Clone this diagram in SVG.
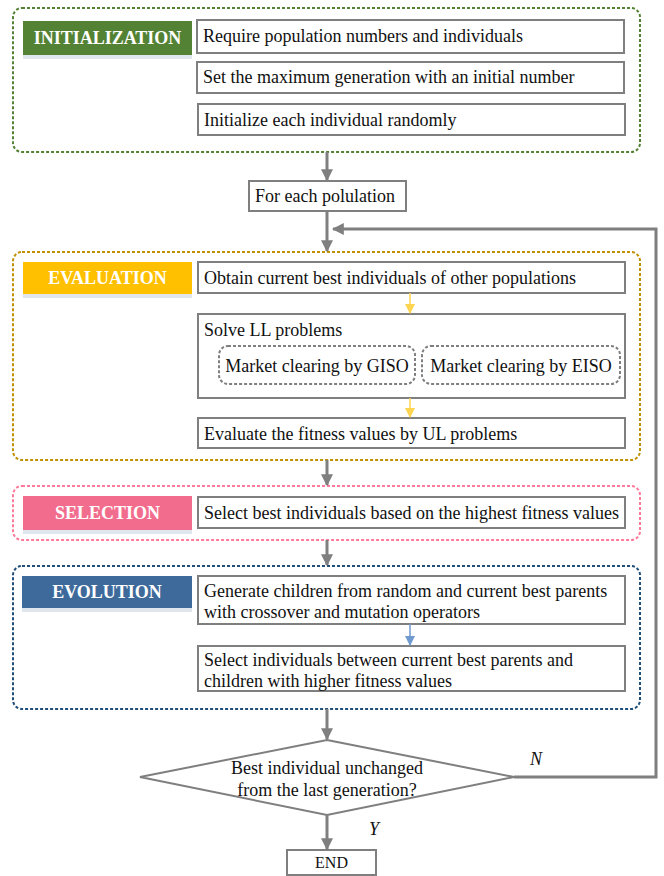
<svg xmlns="http://www.w3.org/2000/svg" width="664" height="876" viewBox="0 0 664 876" font-family="'Liberation Serif','Times New Roman',serif">
<defs>
<marker id="ag" viewBox="0 0 10 10" refX="9" refY="5" markerWidth="4" markerHeight="4" orient="auto" markerUnits="strokeWidth"><path d="M0,0 L10,5 L0,10 z" fill="#7f7f7f"/></marker>
<marker id="ay" viewBox="0 0 10 10" refX="9" refY="5" markerWidth="7" markerHeight="7" orient="auto" markerUnits="strokeWidth"><path d="M0,0 L10,5 L0,10 z" fill="#FFD44F"/></marker>
<marker id="ab" viewBox="0 0 10 10" refX="9" refY="5" markerWidth="7" markerHeight="7" orient="auto" markerUnits="strokeWidth"><path d="M0,0 L10,5 L0,10 z" fill="#6F9AD0"/></marker>
</defs>
<style>
text{font-family:"Liberation Serif","Times New Roman",serif;fill:#111;}
.t{font-size:18px;}
.lab{font-size:18px;font-weight:bold;fill:#fff;text-anchor:middle;}
.box{fill:#fff;stroke:#7f7f7f;stroke-width:2;}
.cont{fill:none;stroke-width:2;stroke-dasharray:3 2;}
.sub{fill:#fff;stroke:#7f7f7f;stroke-width:2;stroke-dasharray:3 2;}
.conn{fill:none;stroke:#7f7f7f;stroke-width:3;}
.shadow{fill:#dfe6ee;}
</style>
<rect width="664" height="876" fill="#fff"/>

<g id="initialization">
<rect class="cont" x="13" y="8" width="627" height="144" rx="9" stroke="#548235"/>
<rect class="shadow" x="23" y="55" width="169" height="4"/>
<rect x="23" y="21" width="169" height="34" fill="#548235"/>
<text class="lab" x="107.5" y="44">INITIALIZATION</text>
</g>
<g id="init1"><rect class="box" x="197" y="20" width="427" height="33"/><text class="t" x="203" y="42">Require population numbers and individuals</text></g>
<g id="init2"><rect class="box" x="197" y="62" width="427" height="31"/><text class="t" x="203" y="83">Set the maximum generation with an initial number</text></g>
<g id="init3"><rect class="box" x="198" y="104" width="427" height="31"/><text class="t" x="204" y="126">Initialize each individual randomly</text></g>

<g id="foreach"><rect class="box" x="249" y="181" width="157" height="30"/><text class="t" x="255" y="202">For each polulation</text></g>

<g id="evaluation">
<rect class="cont" x="13" y="252" width="627" height="208" rx="9" stroke="#BF9000"/>
<rect class="shadow" x="23" y="294" width="169" height="4"/>
<rect x="23" y="262" width="169" height="32" fill="#FFC000"/>
<text class="lab" x="107.5" y="284">EVALUATION</text>
</g>
<g id="obtain"><rect class="box" x="198" y="262" width="427" height="31"/><text class="t" x="204" y="284">Obtain current best individuals of other populations</text></g>
<g id="solve"><rect class="box" x="198" y="314" width="427" height="84"/><text class="t" x="204" y="336">Solve LL problems</text></g>
<g id="giso"><rect class="sub" x="219" y="346" width="196" height="38" rx="9"/><text class="t" x="317" y="372" text-anchor="middle">Market clearing by GISO</text></g>
<g id="eiso"><rect class="sub" x="422" y="346" width="198" height="38" rx="9"/><text class="t" x="521" y="372" text-anchor="middle">Market clearing by EISO</text></g>
<g id="evalfit"><rect class="box" x="198" y="418" width="427" height="30"/><text class="t" x="204" y="440">Evaluate the fitness values by UL problems</text></g>

<g id="selection">
<rect class="cont" x="13" y="486" width="627" height="54" rx="9" stroke="#FF7A9A"/>
<rect class="shadow" x="23" y="530" width="169" height="4"/>
<rect x="23" y="496" width="169" height="34" fill="#F26D8D"/>
<text class="lab" x="107.5" y="519">SELECTION</text>
</g>
<g id="selectbest"><rect class="box" x="198" y="497" width="427" height="31"/><text class="t" x="204" y="519">Select best individuals based on the highest fitness values</text></g>

<g id="evolution">
<rect class="cont" x="13" y="566" width="627" height="143" rx="9" stroke="#1F4E79"/>
<rect class="shadow" x="22" y="608" width="170" height="4"/>
<rect x="22" y="576" width="170" height="32" fill="#3D6A9B"/>
<text class="lab" x="107" y="598">EVOLUTION</text>
</g>
<g id="generate"><rect class="box" x="198" y="576" width="427" height="48"/><text class="t" x="204" y="597">Generate children from random and current best parents</text><text class="t" x="204" y="618">with crossover and mutation operators</text></g>
<g id="selectind"><rect class="box" x="198" y="646" width="427" height="45"/><text class="t" x="204" y="666">Select individuals between current best parents and</text><text class="t" x="204" y="687">children with higher fitness values</text></g>

<g id="decision"><polygon points="327,740 514,777 327,815 140,777" fill="#fff" stroke="#7f7f7f" stroke-width="2"/><text class="t" x="327" y="774" text-anchor="middle">Best individual unchanged</text><text class="t" x="327" y="796" text-anchor="middle">from the last generation?</text></g>

<g id="end"><rect class="box" x="287" y="850" width="89" height="25"/><text class="t" x="331.5" y="868" text-anchor="middle" style="font-size:16px">END</text></g>

<g id="connectors">
<line class="conn" x1="327" y1="152" x2="327" y2="180" marker-end="url(#ag)"/>
<line class="conn" x1="327" y1="211" x2="327" y2="251" marker-end="url(#ag)"/>
<polyline class="conn" points="514,777 656,777 656,229 333,229" marker-end="url(#ag)"/>
<line stroke="#FFD44F" stroke-width="1.5" x1="410" y1="293" x2="410" y2="313" marker-end="url(#ay)"/>
<line stroke="#FFD44F" stroke-width="1.5" x1="410" y1="398" x2="410" y2="417" marker-end="url(#ay)"/>
<line class="conn" x1="327" y1="460" x2="327" y2="485" marker-end="url(#ag)"/>
<line class="conn" x1="327" y1="540" x2="327" y2="565" marker-end="url(#ag)"/>
<line stroke="#6F9AD0" stroke-width="1.5" x1="410" y1="624" x2="410" y2="645" marker-end="url(#ab)"/>
<line class="conn" x1="327" y1="709" x2="327" y2="739" marker-end="url(#ag)"/>
<line class="conn" x1="327" y1="815" x2="327" y2="849" marker-end="url(#ag)"/>
<text class="t" x="530" y="765" font-style="italic">N</text>
<text class="t" x="369" y="835" font-style="italic">Y</text>
</g>
</svg>
